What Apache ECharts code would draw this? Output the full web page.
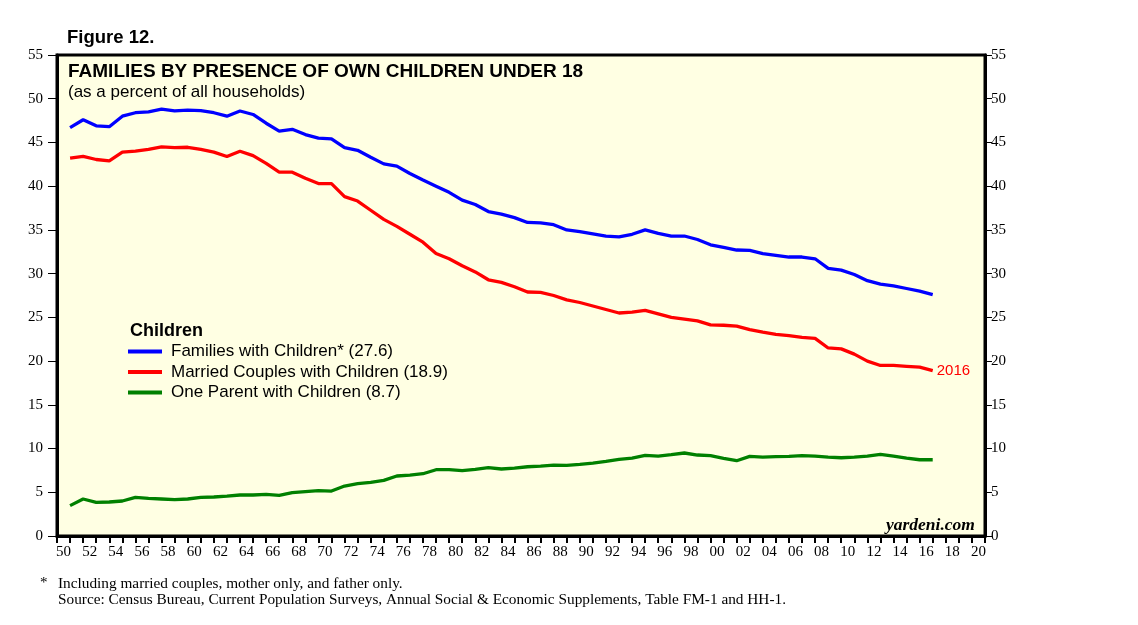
<!DOCTYPE html>
<html>
<head>
<meta charset="utf-8">
<script src="https://cdn.jsdelivr.net/npm/echarts@6/dist/echarts.min.js"></script>
<style>
html,body{margin:0;padding:0;background:#fff;}
#chart{width:1138px;height:625px;}
</style>
</head>
<body>
<div id="chart"></div>
<script>
// ---- data ----
var years = [];
for (var y = 1950; y <= 2016; y++) years.push(y);

var axisYears = [];
for (var a = 1950; a <= 2020; a++) axisYears.push(a);

var families = [46.7,47.6,46.9,46.8,48.0,48.4,48.5,48.8,48.6,48.7,48.65,48.4,48.0,48.6,48.2,47.2,46.3,46.5,45.9,45.5,45.4,44.4,44.1,43.3,42.55,42.3,41.45,40.7,40.0,39.3,38.4,37.9,37.1,36.8,36.4,35.85,35.8,35.6,35.0,34.8,34.55,34.3,34.2,34.5,35.0,34.6,34.3,34.3,33.9,33.3,33.0,32.7,32.65,32.3,32.1,31.9,31.9,31.7,30.6,30.4,29.9,29.2,28.8,28.6,28.3,28.0,27.6];
var married = [43.2,43.4,43.05,42.9,43.9,44.0,44.2,44.5,44.4,44.45,44.2,43.9,43.4,44.0,43.5,42.6,41.6,41.6,40.9,40.3,40.3,38.8,38.3,37.25,36.2,35.4,34.5,33.6,32.3,31.7,30.9,30.2,29.3,29.0,28.5,27.9,27.85,27.5,27.0,26.7,26.3,25.9,25.5,25.6,25.8,25.4,25.0,24.8,24.6,24.15,24.1,24.0,23.6,23.3,23.05,22.9,22.7,22.6,21.5,21.4,20.8,20.0,19.5,19.5,19.4,19.3,18.9];
var oneParent = [3.47,4.23,3.85,3.89,4.0,4.42,4.3,4.23,4.15,4.23,4.42,4.46,4.57,4.69,4.69,4.76,4.65,4.95,5.07,5.18,5.14,5.71,5.98,6.13,6.36,6.86,6.97,7.12,7.58,7.58,7.47,7.62,7.81,7.66,7.77,7.92,7.99,8.11,8.08,8.19,8.34,8.53,8.76,8.91,9.22,9.14,9.3,9.49,9.26,9.18,8.88,8.61,9.1,9.03,9.07,9.1,9.18,9.14,9.03,8.95,9.03,9.14,9.33,9.14,8.91,8.72,8.72];

var seriesNames = ['Families with Children* (27.6)', 'Married Couples with Children (18.9)', 'One Parent with Children (8.7)'];
var seriesColors = ['#0000FF', '#FF0000', '#008000'];
var seriesValues = [families, married, oneParent];

function pairs(vals) {
  return vals.map(function (v, i) { return [years[i], v]; });
}

var chart = echarts.init(document.getElementById('chart'), null, {renderer: 'canvas'});

var sans = '"Liberation Sans", Arial, Helvetica, sans-serif';
var serif = '"Liberation Serif", "Times New Roman", serif';

var series = seriesValues.map(function (vals, i) {
  var s = {
    name: seriesNames[i],
    type: 'line',
    xAxisIndex: 1,
    yAxisIndex: 0,
    data: pairs(vals),
    showSymbol: false,
    symbol: 'none',
    lineStyle: {color: seriesColors[i], width: 3.3},
    itemStyle: {color: seriesColors[i]},
    z: 5 - i,
    animation: false
  };
  if (i === 1) {
    s.endLabel = {
      show: true,
      formatter: '2016',
      color: '#FF0000',
      fontFamily: sans,
      fontSize: 15,
      distance: 4
    };
  }
  return s;
});

var option = {
  backgroundColor: '#ffffff',
  animation: false,
  title: [
    {text: 'Figure 12.', left: 62, top: 23, textStyle: {fontFamily: sans, fontWeight: 'bold', fontSize: 18.5, color: '#000'}},
    {text: 'FAMILIES BY PRESENCE OF OWN CHILDREN UNDER 18', left: 63, top: 57, textStyle: {fontFamily: sans, fontWeight: 'bold', fontSize: 19, color: '#000'}},
    {text: '(as a percent of all households)', left: 63, top: 79, textStyle: {fontFamily: sans, fontWeight: 'normal', fontSize: 17, color: '#000'}},
    {text: 'Children', left: 125, top: 317, textStyle: {fontFamily: sans, fontWeight: 'bold', fontSize: 18, color: '#000'}}
  ],
  legend: {
    orient: 'vertical',
    left: 123,
    top: 338,
    itemWidth: 34,
    itemHeight: 4,
    itemGap: 3.5,
    icon: 'rect',
    data: seriesNames,
    textStyle: {fontFamily: sans, fontSize: 17, color: '#000', padding: [0, 0, 0, 4]},
    selectedMode: false
  },
  grid: {
    left: 57, right: 153, top: 55, bottom: 89,
    show: true,
    backgroundColor: '#FFFFE3',
    borderColor: '#000',
    borderWidth: 3,
    containLabel: false
  },
  xAxis: [
    {
      type: 'category',
      data: axisYears,
      boundaryGap: true,
      position: 'bottom',
      axisLine: {show: true, lineStyle: {color: '#000', width: 3}},
      axisTick: {show: true, interval: 0, length: 7, inside: false, lineStyle: {color: '#000', width: 2}},
      axisLabel: {
        interval: 1,
        margin: 9,
        fontFamily: serif,
        fontSize: 15,
        color: '#000',
        formatter: function (v) { return String(v).slice(2); }
      },
      splitLine: {show: false}
    },
    {
      type: 'value',
      min: 1949,
      max: 2020,
      show: false,
      splitLine: {show: false}
    }
  ],
  yAxis: [
    {
      type: 'value',
      min: 0, max: 55, interval: 5,
      position: 'left',
      axisLine: {show: true, lineStyle: {color: '#000', width: 3}},
      axisTick: {show: true, length: 9, lineStyle: {color: '#000', width: 1}},
      axisLabel: {margin: 14, fontFamily: serif, fontSize: 15, color: '#000'},
      splitLine: {show: false}
    },
    {
      type: 'value',
      min: 0, max: 55, interval: 5,
      position: 'right',
      axisLine: {show: true, lineStyle: {color: '#000', width: 3}},
      axisTick: {show: true, length: 7, lineStyle: {color: '#000', width: 1}},
      axisLabel: {margin: 6, fontFamily: serif, fontSize: 15, color: '#000'},
      splitLine: {show: false}
    }
  ],
  graphic: [
    {type: 'text', left: 886, top: 516, style: {text: 'yardeni.com', font: 'italic bold 17.5px ' + serif, fill: '#000'}},
    {type: 'text', left: 40, top: 576, style: {text: '*', font: '15px ' + serif, fill: '#000'}},
    {type: 'text', left: 58, top: 576, style: {text: 'Including married couples, mother only, and father only.', font: '15.3px ' + serif, fill: '#000'}},
    {type: 'text', left: 58, top: 592, style: {text: 'Source: Census Bureau, Current Population Surveys, Annual Social & Economic Supplements, Table FM-1 and HH-1.', font: '15.3px ' + serif, fill: '#000'}}
  ],
  series: series
};

chart.setOption(option);
</script>
</body>
</html>
